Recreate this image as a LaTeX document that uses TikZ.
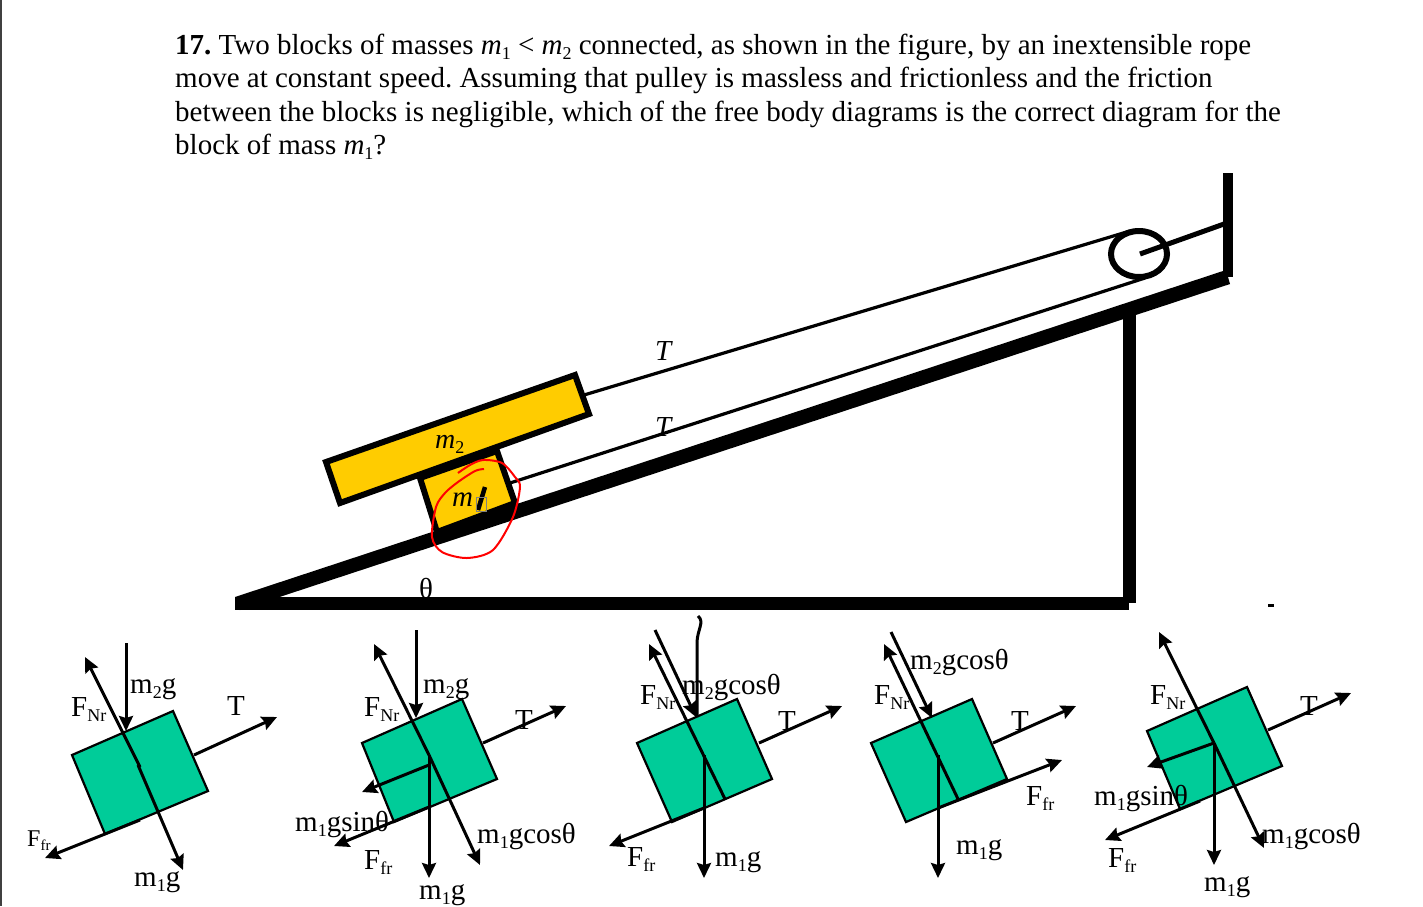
\documentclass[tikz,border=0pt]{standalone}
\usepackage{fontspec}
\setmainfont{Liberation Serif}
\usetikzlibrary{arrows.meta}
\definecolor{blockgreen}{HTML}{00CC99}
\definecolor{blockgold}{HTML}{FFCC00}
\definecolor{edgegray}{HTML}{404040}
\newcommand{\sub}[1]{\raisebox{-0.2em}{\fontsize{18}{18}\upshape\selectfont #1}}
\newcommand{\subs}[1]{\raisebox{-0.2em}{\fontsize{15}{15}\selectfont #1}}
\begin{document}
\frenchspacing
\begin{tikzpicture}[x=1pt,y=-1pt,>={Stealth[length=15pt,width=14pt,inset=2pt]}]
\tikzstyle{question}=[anchor=base west, inner sep=0pt, font=\fontsize{29}{33}\selectfont]
\tikzstyle{lbl}=[anchor=base west, inner sep=0pt, font=\fontsize{29}{33}\selectfont]
\tikzstyle{block}=[draw, fill=blockgreen, line width=2.2pt, line join=miter]
\tikzstyle{force}=[line width=3pt]
\tikzstyle{heavy}=[draw, fill=blockgold, line width=6pt, line join=miter]

\useasboundingbox (0,0) rectangle (1423,906);
\fill[white] (0,0) rectangle (1423,906);
\draw[edgegray, line width=2pt] (0.5,0) -- (0.5,906);

% question
\node[question] (lineA) at (175,54) {\textbf{17.} Two blocks of masses \textit{m}\sub{1} < \textit{m}\sub{2} connected, as shown in the figure, by an inextensible rope};
\node[question] (lineB) at (175,87) {move at constant speed. Assuming that pulley is massless and frictionless and the friction};
\node[question] (lineC) at (175,121) {between the blocks is negligible, which of the free body diagrams is the correct diagram for the};
\node[question] (lineD) at (175,154) {block of mass \textit{m}\sub{1}?};

% ramp
\draw[line width=3.2pt] (584,395) -- (1130,231);
\draw[line width=3.2pt] (510,483) -- (1145,278);
\draw[line width=13pt] (235,603) -- (1129,603);
\draw[line width=13pt] (1129,312) -- (1129,603);
\fill (235,597) -- (1226,270) -- (1230,284) -- (240,610) -- cycle;
\draw[line width=10pt] (1228,173) -- (1228,277);
\draw[line width=6pt] (1139,254) ellipse (28 and 23);
\draw[line width=5pt] (1140,254) -- (1224,224);
\draw[heavy] (326,462) -- (575,375) -- (589,414) -- (340,503) -- cycle;
\draw[heavy] (420,478) -- (497,451) -- (515,503) -- (437,532) -- cycle;
\node[lbl, font=\fontsize{28}{30}\itshape] (mtwo) at (435,448) {m\sub{2}};
\node[lbl, font=\fontsize{29}{30}\itshape] (mone) at (452,506) {m};
\draw[line width=4.5pt] (485,487) -- (478,510);
\draw[gray, line width=0.4pt] (476,497) rectangle (486,511);
\node[lbl] (mainT) at (655,360) {\textit{T}};
\node[lbl] (lowT) at (655,436) {\textit{T}};
\node[lbl] (angle) at (419,598) {θ};
\draw[red, line width=2pt] plot[smooth] coordinates {(458,473) (470,465) (483,460) (502,463) (515,477) (520,487) (513,517) (493,550) (467,558) (442,552) (432,537) (436,507) (445,493) (458,482) (475,471) (484,469)};
\fill (1268,604) rectangle (1274,607);

% first diagram
\draw[block] (72,755) -- (173,711) -- (208,791) -- (105,834) -- cycle;
\draw[force,->] (140,767) -- (85,657);
\draw[force,->] (138,765) -- (183,870);
\draw[force,->] (126,643) -- (126,731);
\draw[force,->] (194,755) -- (277,717);
\draw[force,->] (140,820) -- (45,858);
\node[lbl] (gravA) at (130,693) {m\sub{2}g};
\node[lbl] (normA) at (71,716) {F\sub{Nr}};
\node[lbl] (tensA) at (227,715) {T};
\node[lbl, font=\fontsize{24}{28}\selectfont] (fricA) at (27,846) {F\subs{fr}};
\node[lbl] (weiA) at (134,886) {m\sub{1}g};

% second diagram
\draw[block] (362,743) -- (462,699) -- (497,779) -- (394,822) -- cycle;
\draw[force,->] (429,755) -- (374,644);
\draw[force,->] (429,755) -- (480,865);
\draw[force,->] (416,630) -- (416,718);
\draw[force,->] (483,743) -- (566,706);
\draw[force,->] (429,765) -- (362,792);
\draw[force,->] (429,755) -- (429,878);
\draw[force,->] (429,807) -- (334,846);
\node[lbl] (gravB) at (423,693) {m\sub{2}g};
\node[lbl] (normB) at (364,716) {F\sub{Nr}};
\node[lbl] (tensB) at (515,729) {T};
\node[lbl] (sinB) at (295,831) {m\sub{1}gsinθ};
\node[lbl] (cosB) at (477,843) {m\sub{1}gcosθ};
\node[lbl] (fricB) at (364,869) {F\sub{fr}};
\node[lbl] (weiB) at (419,899) {m\sub{1}g};

% third diagram
\draw[block] (637,743) -- (737,699) -- (772,779) -- (672,822) -- cycle;
\draw[force,->] (725,799) -- (649,644);
\draw[force,->] (655,630) -- (696,717);
\draw[force] (698,616) .. controls (705,622) and (697,630) .. (697,643) -- (697,717);
\draw[force,->] (759,743) -- (842,706);
\draw[force,->] (704,755) -- (704,878);
\draw[force,->] (704,808) -- (609,846);
\node[lbl] (normC) at (640,704) {F\sub{Nr}};
\node[lbl] (gravC) at (682,694) {m\sub{2}gcosθ};
\node[lbl] (tensC) at (778,730) {T};
\node[lbl] (fricC) at (627,866) {F\sub{fr}};
\node[lbl] (weiC) at (715,866) {m\sub{1}g};

% fourth diagram
\draw[block] (871,743) -- (972,699) -- (1007,779) -- (906,822) -- cycle;
\draw[force,->] (958,799) -- (884,644);
\draw[force,->] (891,632) -- (932,718);
\draw[force,->] (993,743) -- (1076,706);
\draw[force,->] (938,808) -- (1062,760);
\draw[force,->] (938,755) -- (938,878);
\node[lbl] (normD) at (874,704) {F\sub{Nr}};
\node[lbl] (gravD) at (910,669) {m\sub{2}gcosθ};
\node[lbl] (tensD) at (1011,730) {T};
\node[lbl] (fricD) at (1026,805) {F\sub{fr}};
\node[lbl] (weiD) at (956,854) {m\sub{1}g};

% fifth diagram
\draw[block] (1147,731) -- (1247,687) -- (1282,766) -- (1180,809) -- cycle;
\draw[force,->] (1214,743) -- (1159,632);
\draw[force,->] (1214,743) -- (1264,848);
\draw[force,->] (1268,730) -- (1351,693);
\draw[force,->] (1214,743) -- (1147,767);
\draw[force,->] (1214,743) -- (1214,865);
\draw[force,->] (1200,801) -- (1105,840);
\node[lbl] (normE) at (1150,704) {F\sub{Nr}};
\node[lbl] (tensE) at (1300,715) {T};
\node[lbl] (sinE) at (1094,805) {m\sub{1}gsinθ};
\node[lbl] (cosE) at (1262,843) {m\sub{1}gcosθ};
\node[lbl] (fricE) at (1108,867) {F\sub{fr}};
\node[lbl] (weiE) at (1204,891) {m\sub{1}g};
\end{tikzpicture}
\end{document}
